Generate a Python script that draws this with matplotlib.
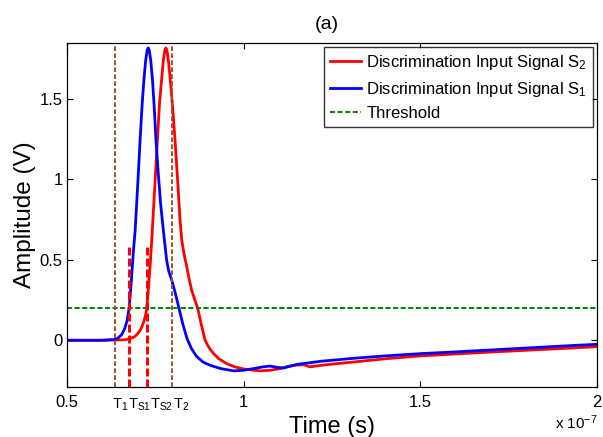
import matplotlib
matplotlib.use("Agg")
import matplotlib.pyplot as plt
import matplotlib.transforms as mtransforms

plt.rcParams["font.family"] = ["Liberation Sans", "DejaVu Sans"]
plt.rcParams["mathtext.fontset"] = "custom"
plt.rcParams["mathtext.rm"] = "Liberation Sans"
plt.rcParams["mathtext.it"] = "Liberation Sans"

# ── data (time in units of 1e-7 s, amplitude in V) ──────────────
t_s1 = [0.50, 0.60, 0.636, 0.645, 0.655, 0.664, 0.670, 0.676, 0.682, 0.688,
        0.693, 0.700, 0.707, 0.713, 0.718, 0.723, 0.727, 0.730, 0.733, 0.737,
        0.742, 0.747, 0.752, 0.758, 0.765, 0.772, 0.778, 0.782, 0.788, 0.797,
        0.807, 0.817, 0.828, 0.840, 0.852, 0.867, 0.885, 0.905, 0.936, 0.972,
        1.00, 1.03, 1.055, 1.075, 1.095, 1.112, 1.13, 1.15, 1.22, 1.31,
        1.40, 1.50, 1.60, 1.70, 1.80, 1.90, 2.00]
v_s1 = [0.00, 0.00, 0.005, 0.015, 0.035, 0.075, 0.12, 0.20, 0.36, 0.55,
        0.68, 0.95, 1.24, 1.47, 1.62, 1.74, 1.80, 1.815, 1.80, 1.74,
        1.62, 1.45, 1.24, 1.05, 0.85, 0.70, 0.58, 0.50, 0.43, 0.37,
        0.29, 0.20, 0.10, 0.01, -0.05, -0.10, -0.135, -0.155, -0.176, -0.19,
        -0.186, -0.175, -0.165, -0.16, -0.168, -0.172, -0.162, -0.15, -0.13, -0.112,
        -0.097, -0.083, -0.072, -0.060, -0.048, -0.036, -0.025]

t_s2 = [0.50, 0.60, 0.664, 0.678, 0.690, 0.700, 0.708, 0.716, 0.722, 0.726,
        0.731, 0.736, 0.740, 0.748, 0.756, 0.762, 0.768, 0.773, 0.777, 0.780,
        0.783, 0.788, 0.794, 0.800, 0.806, 0.813, 0.820, 0.825, 0.831, 0.837,
        0.845, 0.853, 0.862, 0.870, 0.880, 0.891, 0.902, 0.914, 0.930, 0.952,
        0.975, 1.00, 1.03, 1.047, 1.075, 1.103, 1.13, 1.145, 1.17, 1.188,
        1.21, 1.25, 1.31, 1.40, 1.50, 1.60, 1.70, 1.80, 1.90, 2.00]
v_s2 = [0.00, 0.00, 0.003, 0.01, 0.02, 0.04, 0.065, 0.105, 0.15, 0.20,
        0.33, 0.48, 0.62, 0.93, 1.24, 1.47, 1.62, 1.74, 1.80, 1.815,
        1.80, 1.72, 1.58, 1.42, 1.24, 1.00, 0.75, 0.62, 0.54, 0.478,
        0.39, 0.31, 0.25, 0.20, 0.10, 0.00, -0.045, -0.08, -0.115, -0.145,
        -0.165, -0.178, -0.186, -0.19, -0.186, -0.176, -0.16, -0.155, -0.152, -0.165,
        -0.158, -0.148, -0.135, -0.115, -0.097, -0.085, -0.073, -0.062, -0.051, -0.04]

threshold = 0.2
t_markers = [0.636, 0.797]            # T1, T2 (brown)
t_cross = [0.676, 0.726]              # T_S1, T_S2 (red)
cross_top = 0.58
marker_labels = ["$\\mathrm{T}_{1}$", "$\\mathrm{T}_{\\mathrm{S1}}$",
                 "$\\mathrm{T}_{\\mathrm{S2}}$", "$\\mathrm{T}_{2}$"]
marker_pos = [0.636, 0.676, 0.726, 0.797]
label_shift_px = [-3, -1, 3, 1]

fig = plt.figure(figsize=(6.03, 4.37), dpi=100)
ax = fig.add_axes([0.111, 0.1144, 0.879, 0.7872])

ax.plot(t_s2, v_s2, color="red", lw=2.0, label="Discrimination Input Signal S$_2$")
ax.plot(t_s1, v_s1, color="blue", lw=2.0, label="Discrimination Input Signal S$_1$")
ax.axhline(threshold, color="#008000", lw=1.4, ls=(0, (2.6, 1.3)), label="Threshold")

brown = "#A0522D"
for tm in t_markers:
    ax.axvline(tm, color=brown, lw=1.4, ls=(0, (2.4, 1.2)))
for tc in t_cross:
    ax.plot([tc, tc], [-0.29, cross_top], color="red", lw=2.2, ls=(0, (2.6, 1.0)))

ax.set_xlim(0.5, 2.0)
ax.set_ylim(-0.29, 1.845)
ax.set_xticks([0.5, 1, 1.5, 2])
ax.set_xticklabels(["0.5", "1", "1.5", "2"])
ax.set_yticks([0, 0.5, 1, 1.5])
ax.set_yticklabels(["0", "0.5", "1", "1.5"])
ax.tick_params(direction="in", length=4, width=0.8, labelsize=12, top=True, right=True)
ax.tick_params(axis="x", pad=6)
ax.tick_params(axis="y", pad=3)
for sp in ax.spines.values():
    sp.set_linewidth(0.9)

base = mtransforms.blended_transform_factory(ax.transData, ax.transAxes)
for lab, xp, dx in zip(marker_labels, marker_pos, label_shift_px):
    tr = mtransforms.offset_copy(base, fig=fig, x=dx, y=0, units="dots")
    ax.text(xp, -0.028, lab, transform=tr, ha="left", va="top", fontsize=10.5)

ax.set_xlabel("Time (s)", fontsize=17, labelpad=4)
ax.set_ylabel("Amplitude (V)", fontsize=17.5, labelpad=3)
ax.set_title("(a)", fontsize=14, pad=10, x=0.49)
fig.text(0.955, 0.012, "x 10$^{-7}$", fontsize=11, ha="center", va="bottom")

leg = ax.legend(loc="upper right", fontsize=12, frameon=True, fancybox=False,
                borderaxespad=0.25, handlelength=1.9, labelspacing=0.45,
                borderpad=0.35, handletextpad=0.3)
leg.get_frame().set_edgecolor("black")
leg.get_frame().set_linewidth(1.0)

fig.savefig("out.png", dpi=100)
